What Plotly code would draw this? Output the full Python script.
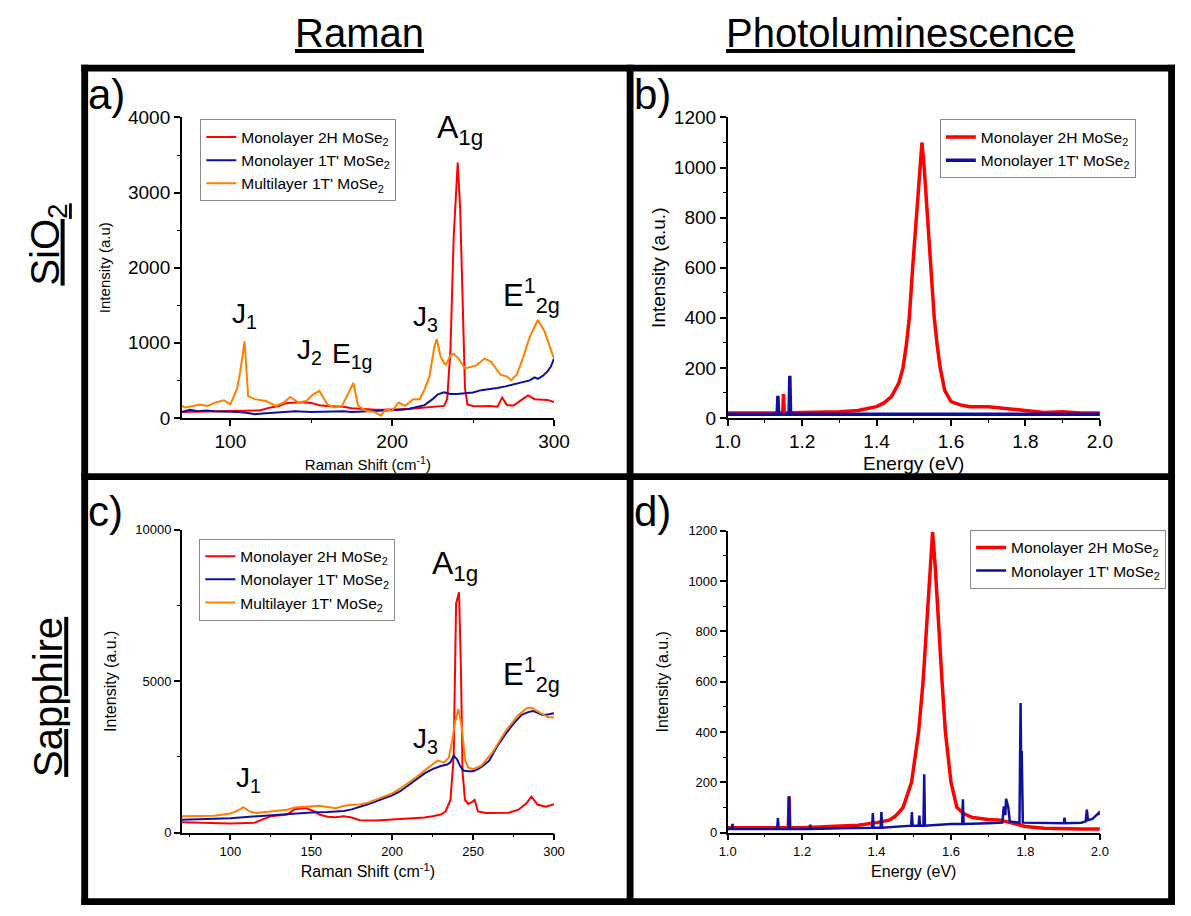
import plotly.graph_objects as go

W, H = 1191, 916
FONT = "Liberation Sans, Arial, sans-serif"
RED = "#ff0000"
BLUE = "#10109c"
ORANGE = "#ff8000"

# ---------------- Panel a: Raman on SiO2 ----------------
a_x_red = [70, 80, 90, 100, 110, 118, 125, 130, 135, 140, 145, 150, 155, 160, 165, 170, 175, 180, 185, 190,
           195, 200, 205, 210, 215, 220, 225, 230, 232, 234, 236, 238, 240.5, 242, 243.5, 245, 246.5, 250, 255,
           260, 265, 268, 271, 275, 280, 284, 288, 292, 296, 300]
a_y_red = [80, 85, 80, 85, 90, 100, 140, 160, 200, 205, 210, 200, 170, 160, 150, 150, 130, 120, 115, 110,
           110, 110, 115, 120, 130, 140, 150, 160, 160, 250, 900, 2400, 3400, 2800, 1500, 400, 180, 160, 155,
           160, 150, 270, 170, 165, 240, 300, 250, 240, 240, 210]
a_x_blue = [70, 75, 80, 85, 90, 100, 105, 110, 115, 120, 125, 130, 140, 150, 160, 165, 170, 175, 180, 185,
            190, 195, 200, 205, 210, 215, 220, 225, 228, 232, 236, 240, 245, 250, 255, 260, 265, 270, 275, 280,
            285, 288, 290, 293, 296, 298, 300]
a_y_blue = [80, 110, 90, 100, 90, 90, 80, 70, 50, 60, 70, 80, 90, 80, 85, 95, 90, 80, 85, 95,
            100, 100, 100, 110, 120, 140, 170, 250, 310, 340, 320, 320, 330, 340, 370, 380, 400, 420, 450, 470,
            500, 540, 520, 560, 620, 680, 790]
a_x_or = [70, 72, 77, 81, 86, 90, 96, 100, 104, 106, 108.8, 111, 115, 122, 128, 133, 137, 142, 147, 151,
          155, 160, 164, 169, 173, 176, 179, 184, 189, 193, 196, 200, 204, 208, 213, 217, 220, 223, 226, 227.5,
          230, 233, 236, 238, 241, 245, 252, 257, 261, 264, 267, 271, 273.5, 277, 281, 285, 290, 294, 298, 300]
a_y_or = [160, 140, 160, 180, 160, 200, 235, 180, 380, 600, 1020, 290, 250, 225, 160, 205, 280, 205, 225, 310,
          360, 180, 140, 160, 330, 465, 160, 95, 80, 30, 115, 95, 205, 160, 250, 250, 380, 550, 940, 1050,
          810, 700, 830, 855, 790, 660, 700, 790, 750, 660, 575, 550, 500, 575, 810, 1075, 1305, 1160, 900, 790]

# ---------------- Panel b: PL on SiO2 ----------------
b_x_red = [1.00, 1.05, 1.10, 1.148, 1.150, 1.152, 1.20, 1.25, 1.30, 1.35, 1.38, 1.40, 1.42, 1.44, 1.46, 1.471,
           1.480, 1.488, 1.497, 1.507, 1.515, 1.522, 1.528, 1.537, 1.546, 1.555, 1.563, 1.571, 1.583, 1.60,
           1.625, 1.65, 1.70, 1.75, 1.80, 1.85, 1.90, 1.95, 2.00]
b_y_red = [20, 20, 20, 20, 95, 20, 22, 22, 25, 30, 38, 45, 60, 85, 140, 200,
           290, 400, 600, 800, 1000, 1100, 1000, 800, 600, 400, 290, 200, 110, 65,
           52, 45, 45, 38, 28, 22, 25, 20, 20]
b_x_blue = [1.00, 1.10, 1.133, 1.135, 1.137, 1.165, 1.167, 1.169, 1.20, 1.30, 1.40, 1.50, 1.60, 1.70, 1.80,
            1.90, 2.00]
b_y_blue = [15, 15, 15, 88, 15, 15, 168, 15, 15, 15, 15, 12, 15, 15, 15, 15, 15]

# ---------------- Panel c: Raman on Sapphire ----------------
c_x_red = [70, 80, 90, 100, 110, 115, 118, 125, 135, 140, 147, 152, 155, 160, 165, 170, 175, 180, 190, 200,
           210, 220, 225, 230, 233, 236, 238, 239.5, 241.3, 242.5, 243.5, 245, 247, 249, 251, 253, 258, 265,
           272, 278, 283, 286, 290, 295, 300]
c_y_red = [345, 330, 300, 300, 320, 330, 400, 540, 600, 780, 810, 700, 600, 530, 510, 540, 500, 410, 400, 430,
           460, 500, 540, 600, 700, 1080, 2500, 7560, 7940, 5400, 2000, 1080, 950, 1000, 1080, 700, 650, 650,
           660, 760, 970, 1190, 920, 860, 940]
c_x_blue = [70, 80, 90, 100, 110, 120, 130, 140, 150, 160, 165, 170, 175, 180, 185, 190, 195, 200, 205, 210,
            215, 220, 225, 230, 234, 236, 238, 240, 242, 244, 247, 250, 253, 256, 260, 265, 270, 275, 280, 284,
            287, 290, 293, 296, 300]
c_y_blue = [430, 440, 450, 480, 520, 560, 600, 640, 670, 680, 700, 720, 770, 850, 940, 1040, 1130, 1230, 1370,
            1560, 1780, 1960, 2100, 2200, 2250, 2320, 2540, 2430, 2200, 2050, 2030, 2030, 2100, 2200, 2380, 2860,
            3250, 3600, 3890, 3980, 4020, 3950, 3890, 3900, 3940]
c_x_or = [70, 80, 90, 100, 105, 108, 112, 116, 120, 130, 135, 140, 150, 155, 160, 165, 170, 175, 180, 185,
          190, 195, 200, 205, 210, 215, 220, 225, 228, 232, 235, 237, 239, 241, 243, 245, 247, 250, 255, 262,
          270, 278, 283, 286, 290, 293, 296, 300]
c_y_or = [540, 550, 560, 630, 740, 840, 700, 650, 670, 740, 760, 830, 880, 890, 850, 810, 880, 920, 930, 990,
          1090, 1190, 1300, 1460, 1640, 1840, 2050, 2250, 2380, 2320, 2480, 3000, 3700, 4080, 3500, 2400, 2150,
          2100, 2210, 2650, 3350, 3890, 4100, 4130, 4000, 3910, 3820, 3800]

# ---------------- Panel d: PL on Sapphire ----------------
d_x_red = [1.00, 1.10, 1.163, 1.165, 1.167, 1.20, 1.30, 1.35, 1.40, 1.434, 1.45, 1.471, 1.494, 1.513, 1.525,
           1.534, 1.543, 1.5506, 1.558, 1.567, 1.576, 1.585, 1.600, 1.616, 1.635, 1.658, 1.70, 1.733, 1.76,
           1.80, 1.85, 1.90, 1.95, 2.00]
d_y_red = [20, 20, 20, 145, 20, 20, 25, 30, 40, 50, 65, 100, 200, 400, 600,
           800, 1050, 1195, 1050, 800, 600, 400, 200, 100, 75, 60, 52, 50, 40,
           25, 18, 15, 15, 15]
d_x_blue = [1.000, 1.011, 1.013, 1.015, 1.10, 1.133, 1.135, 1.137, 1.163, 1.165, 1.167, 1.220, 1.222, 1.224,
            1.30, 1.388, 1.390, 1.392, 1.411, 1.413, 1.415, 1.45, 1.493, 1.495, 1.497, 1.513, 1.515, 1.517,
            1.526, 1.528, 1.530, 1.60, 1.630, 1.632, 1.634, 1.70, 1.738, 1.742, 1.746, 1.748, 1.751, 1.754,
            1.758, 1.784, 1.787, 1.789, 1.790, 1.793, 1.85, 1.903, 1.905, 1.907, 1.95, 1.962, 1.965, 1.968,
            1.98, 1.998, 2.000]
d_y_blue = [15, 15, 35, 15, 15, 15, 58, 15, 15, 145, 15, 15, 32, 15,
            18, 20, 78, 20, 20, 82, 20, 24, 28, 82, 28, 28, 68, 28,
            28, 232, 28, 35, 35, 133, 35, 38, 40, 105, 70, 135, 110, 100,
            45, 40, 515, 200, 325, 40, 38, 38, 60, 38, 40, 45, 92, 50,
            55, 80, 70]

NAME_2H = "Monolayer 2H MoSe<sub>2</sub>"
NAME_1T = "Monolayer 1T' MoSe<sub>2</sub>"
NAME_ML = "Multilayer 1T' MoSe<sub>2</sub>"


def px(x):
    return x / W


def py(y):
    return 1 - y / H


fig = go.Figure()

# panel a
fig.add_trace(go.Scatter(x=a_x_red, y=a_y_red, mode="lines", name=NAME_2H, line=dict(color=RED, width=2),
                         xaxis="x", yaxis="y", legend="legend"))
fig.add_trace(go.Scatter(x=a_x_blue, y=a_y_blue, mode="lines", name=NAME_1T, line=dict(color=BLUE, width=2),
                         xaxis="x", yaxis="y", legend="legend"))
fig.add_trace(go.Scatter(x=a_x_or, y=a_y_or, mode="lines", name=NAME_ML, line=dict(color=ORANGE, width=2),
                         xaxis="x", yaxis="y", legend="legend"))
# panel b
fig.add_trace(go.Scatter(x=b_x_red, y=b_y_red, mode="lines", name=NAME_2H, line=dict(color=RED, width=3.5),
                         xaxis="x2", yaxis="y2", legend="legend2"))
fig.add_trace(go.Scatter(x=b_x_blue, y=b_y_blue, mode="lines", name=NAME_1T, line=dict(color=BLUE, width=3.5),
                         xaxis="x2", yaxis="y2", legend="legend2"))
# panel c
fig.add_trace(go.Scatter(x=c_x_red, y=c_y_red, mode="lines", name=NAME_2H, line=dict(color=RED, width=2),
                         xaxis="x3", yaxis="y3", legend="legend3"))
fig.add_trace(go.Scatter(x=c_x_blue, y=c_y_blue, mode="lines", name=NAME_1T, line=dict(color=BLUE, width=2),
                         xaxis="x3", yaxis="y3", legend="legend3"))
fig.add_trace(go.Scatter(x=c_x_or, y=c_y_or, mode="lines", name=NAME_ML, line=dict(color=ORANGE, width=2),
                         xaxis="x3", yaxis="y3", legend="legend3"))
# panel d
fig.add_trace(go.Scatter(x=d_x_red, y=d_y_red, mode="lines", name=NAME_2H, line=dict(color=RED, width=3.5),
                         xaxis="x4", yaxis="y4", legend="legend4"))
fig.add_trace(go.Scatter(x=d_x_blue, y=d_y_blue, mode="lines", name=NAME_1T, line=dict(color=BLUE, width=2.5),
                         xaxis="x4", yaxis="y4", legend="legend4"))


def axis(domain, anchor, rng, dtick, minor_dtick, title, tsize, titlesize, standoff, fmt=None):
    d = dict(domain=domain, anchor=anchor, range=rng, dtick=dtick, tick0=0,
             showline=True, linecolor="black", linewidth=1.5, mirror=False,
             ticks="outside", ticklen=6, tickwidth=1.5, tickcolor="black",
             showgrid=False, zeroline=False,
             tickfont=dict(family=FONT, size=tsize, color="black"),
             minor=dict(dtick=minor_dtick, ticks="outside", ticklen=3, tickwidth=1.2, tickcolor="black",
                        showgrid=False),
             title=dict(text=title, font=dict(family=FONT, size=titlesize, color="black"), standoff=standoff))
    if fmt:
        d["tickformat"] = fmt
    return d


xa = [px(173), px(554.5)]
xb = [px(732.5), px(1114)]
ytop = [py(417.5), py(110)]
ybot = [py(842), py(532)]

RAMAN_T = "Raman Shift (cm<sup>-1</sup>)"

fig.update_layout(
    xaxis=axis(xa, "y", [70, 300], 100, 50, RAMAN_T, 19, 15, 8, "d"),
    yaxis=axis(ytop, "x", [0, 4000], 1000, 500, "Intensity (a.u)", 19, 15, 14, "d"),
    xaxis2=axis(xb, "y2", [1.0, 2.0], 0.2, 0.1, "Energy (eV)", 19, 19, 5, ".1f"),
    yaxis2=axis(ytop, "x2", [0, 1200], 200, 100, "Intensity (a.u.)", 19, 19, 3, "d"),
    xaxis3=axis(xa, "y3", [70, 300], 50, 25, RAMAN_T, 13, 16, 8, "d"),
    yaxis3=axis(ybot, "x3", [0, 10000], 5000, 2500, "Intensity (a.u.)", 13, 16, 15, "d"),
    xaxis4=axis(xb, "y4", [1.0, 2.0], 0.2, 0.1, "Energy (eV)", 13, 16, 8, ".1f"),
    yaxis4=axis([py(842), py(533)], "x4", [0, 1200], 200, 100, "Intensity (a.u.)", 13, 16, 16, "d"),
)

leg_common = dict(bgcolor="white", bordercolor="#888888", borderwidth=1, xanchor="left", yanchor="top",
                  font=dict(family=FONT, size=15.5, color="black"), tracegroupgap=0, itemwidth=30)
fig.update_layout(
    legend=dict(x=px(192), y=py(112), **leg_common),
    legend2=dict(x=px(950), y=py(112), **leg_common),
    legend3=dict(x=px(191), y=py(541), **leg_common),
    legend4=dict(x=px(981), y=py(532), **leg_common),
)

annotations = []


def ann(text, x, y, size, angle=0):
    annotations.append(dict(text=text, x=px(x), y=py(y), xref="paper", yref="paper", showarrow=False,
                            xanchor="center", yanchor="middle", textangle=angle,
                            font=dict(family=FONT, size=size, color="black")))


# column / row headers
ann("<u>Raman</u>", 355, 24, 40)
ann("<u>Photoluminescence</u>", 910, 24, 40)
ann("<u>SiO<sub>2</sub></u>", 36, 240, 40, -90)
ann("<u>Sapphire</u>", 36, 703, 40, -90)

# panel letters
for t, x, y in [("a)", 96, 86), ("b)", 655, 86), ("c)", 95, 513), ("d)", 655, 513)]:
    ann(t, x, y, 42)

# peak labels panel a
ann("A<sub>1g</sub>", 458, 122, 32)
ann("E<sup>1</sup><sub>2g</sub>", 531, 292, 31)
ann("J<sub>1</sub>", 237, 313, 28)
ann("J<sub>2</sub>", 304, 350, 28)
ann("E<sub>1g</sub>", 347, 354, 28)
ann("J<sub>3</sub>", 423, 316, 28)
# peak labels panel c
ann("A<sub>1g</sub>", 453, 569, 32)
ann("E<sup>1</sup><sub>2g</sub>", 531, 680, 31)
ann("J<sub>3</sub>", 423, 748, 28)
ann("J<sub>1</sub>", 241, 788, 28)

shapes = []


def band(x0, y0, x1, y1):
    shapes.append(dict(type="rect", xref="paper", yref="paper", x0=px(x0), x1=px(x1), y0=py(y1), y1=py(y0),
                       fillcolor="black", line=dict(width=0), layer="above"))


band(70, 56, 1191, 63)     # top
band(70, 909, 1191, 916)   # bottom
band(70, 56, 77, 916)      # left
band(1184, 56, 1191, 916)  # right
band(629, 56, 636, 916)    # vertical divider
band(70, 474, 1191, 481)   # horizontal divider

fig.update_layout(
    width=W, height=H, autosize=False,
    margin=dict(l=0, r=0, t=0, b=0),
    paper_bgcolor="white", plot_bgcolor="white",
    annotations=annotations, shapes=shapes,
    font=dict(family=FONT, color="black"),
)

fig.write_html("out.html")
